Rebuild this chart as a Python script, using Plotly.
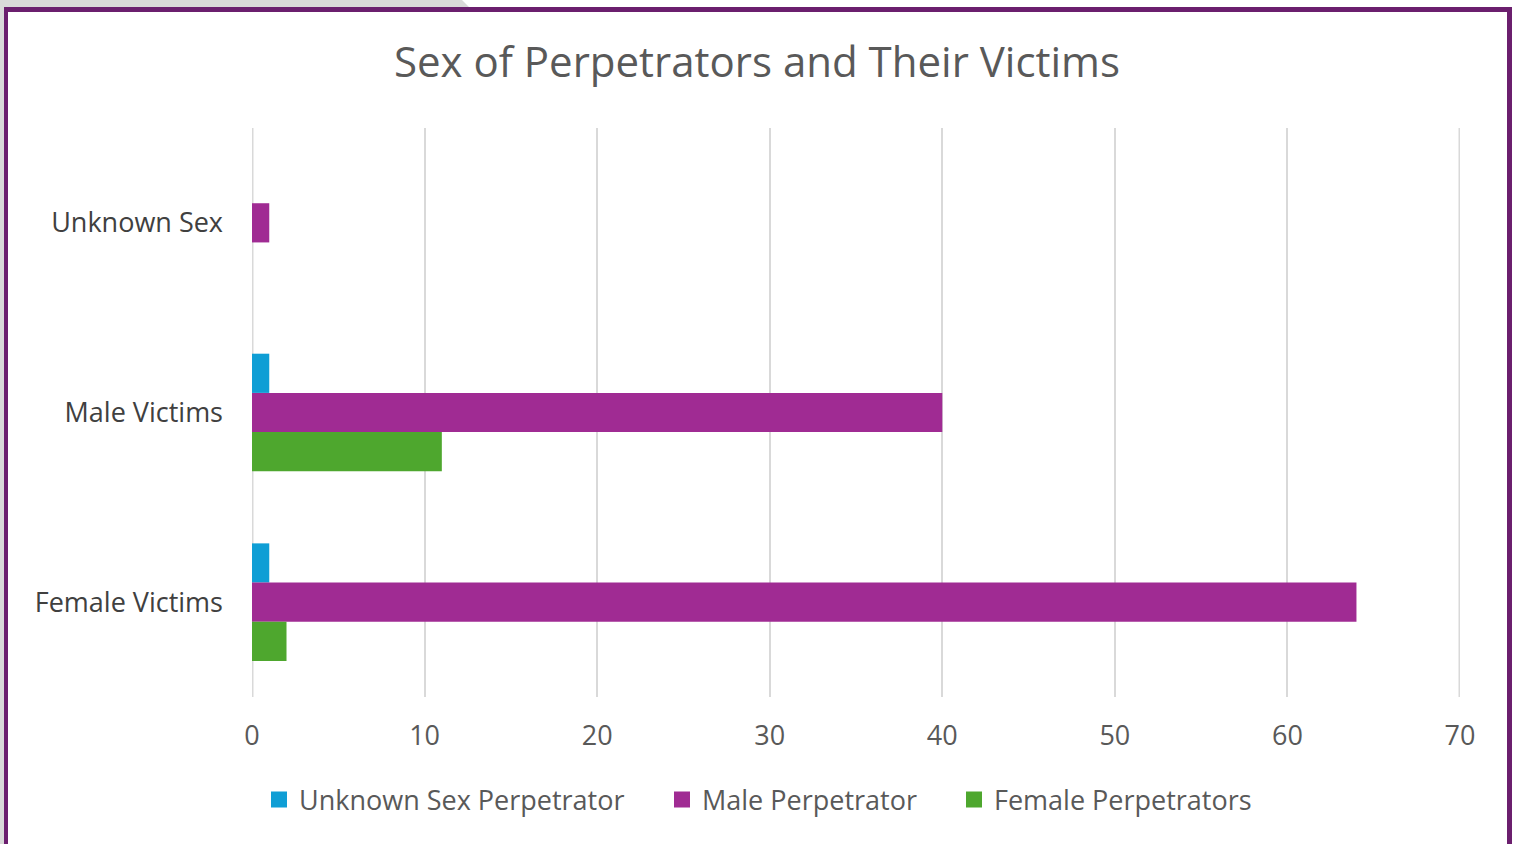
import plotly.graph_objects as go

categories = ["Unknown Sex", "Male Victims", "Female Victims"]
series_names = ["Unknown Sex Perpetrator", "Male Perpetrator", "Female Perpetrators"]
unknown_perp = [0, 1, 1]
male_perp = [1, 40, 64]
female_perp = [0, 11, 2]
colors = ["#0F9ED5", "#A02B93", "#4EA72E"]
x_ticks = [0, 10, 20, 30, 40, 50, 60, 70]

W, H = 1517, 844
L, R, T, B = 252, 1460, 128, 697

def px(x):
    return (x - L) / (R - L)

def py(y):
    return (B - y) / (B - T)

font_family = "Open Sans, Noto Sans, sans-serif"
legend_ids = ["legend", "legend2", "legend3"]
legend_left = [259, 662, 954]

fig = go.Figure()
for name, vals, col in zip(series_names, [unknown_perp, male_perp, female_perp], colors):
    fig.add_trace(go.Bar(
        y=categories, x=vals, name=name, orientation="h", showlegend=False,
        marker=dict(color=col, line=dict(width=0)),
    ))
# legend entries with larger square swatches
for name, col, lid in zip(series_names, colors, legend_ids):
    fig.add_trace(go.Scatter(
        x=[None], y=[None], mode="markers", name=name, legend=lid,
        marker=dict(symbol="square", size=16, color=col, line=dict(width=0)),
        showlegend=True, hoverinfo="skip",
    ))

legend_common = dict(orientation="h", xanchor="left", y=py(800), yanchor="middle",
                     font=dict(family=font_family, size=27, color="#595959"),
                     itemsizing="trace", itemwidth=30, bgcolor="rgba(0,0,0,0)",
                     borderwidth=0)

fig.update_layout(
    width=W, height=H,
    margin=dict(l=L, r=W - R, t=T, b=H - B, autoexpand=False),
    paper_bgcolor="white", plot_bgcolor="white",
    barmode="group", bargap=0.38, bargroupgap=0,
    title=dict(text="Sex of Perpetrators and Their Victims", x=757 / W, xanchor="center",
               y=1 - 62 / H, yanchor="middle",
               font=dict(family=font_family, size=42, color="#595959")),
    font=dict(family=font_family, size=27, color="#595959"),
    xaxis=dict(range=[x_ticks[0], x_ticks[-1]], tickvals=x_ticks, showgrid=True, gridcolor="#d9d9d9",
               gridwidth=1.5, zeroline=False, showline=False, ticks="",
               ticklabelstandoff=20, tickfont=dict(size=27, color="#595959")),
    yaxis=dict(autorange="reversed", categoryorder="array", categoryarray=categories,
               showgrid=False, zeroline=False, showline=False, ticks="",
               ticklabelstandoff=28, tickfont=dict(size=27, color="#404040")),
    legend=dict(legend_common, x=px(legend_left[0])),
    legend2=dict(legend_common, x=px(legend_left[1])),
    legend3=dict(legend_common, x=px(legend_left[2])),
)

shapes = []
# edge gridlines (at the first and last tick values); half is clipped, so draw wider
for v in (x_ticks[0], x_ticks[-1]):
    shapes.append(dict(type="line", xref="x", yref="paper", x0=v, x1=v, y0=0, y1=1,
                       line=dict(color="#d9d9d9", width=3), layer="below"))
shapes.append(dict(type="rect", xref="paper", yref="paper",
                   x0=px(0), x1=px(4), y0=py(H), y1=py(0),
                   fillcolor="#d9d9d9", line=dict(width=0), layer="below"))
shapes.append(dict(type="path", xref="paper", yref="paper",
                   path=f"M {px(0)} {py(0)} L {px(462)} {py(0)} L {px(470)} {py(8)} L {px(0)} {py(8)} Z",
                   fillcolor="#d9d9d9", line=dict(width=0), layer="below"))
frame_col = "#6B1F6E"
shapes.append(dict(type="rect", xref="paper", yref="paper",
                   x0=px(4), x1=px(8), y0=py(H + 5), y1=py(7),
                   fillcolor=frame_col, line=dict(width=0)))
shapes.append(dict(type="rect", xref="paper", yref="paper",
                   x0=px(4), x1=px(1512), y0=py(12), y1=py(7),
                   fillcolor=frame_col, line=dict(width=0)))
shapes.append(dict(type="rect", xref="paper", yref="paper",
                   x0=px(1507), x1=px(1512), y0=py(H + 5), y1=py(7),
                   fillcolor=frame_col, line=dict(width=0)))
fig.update_layout(shapes=shapes)

fig.write_html("out.html", config={"displayModeBar": False},
               post_script="document.body.style.margin='0px';document.body.style.overflow='hidden';")
